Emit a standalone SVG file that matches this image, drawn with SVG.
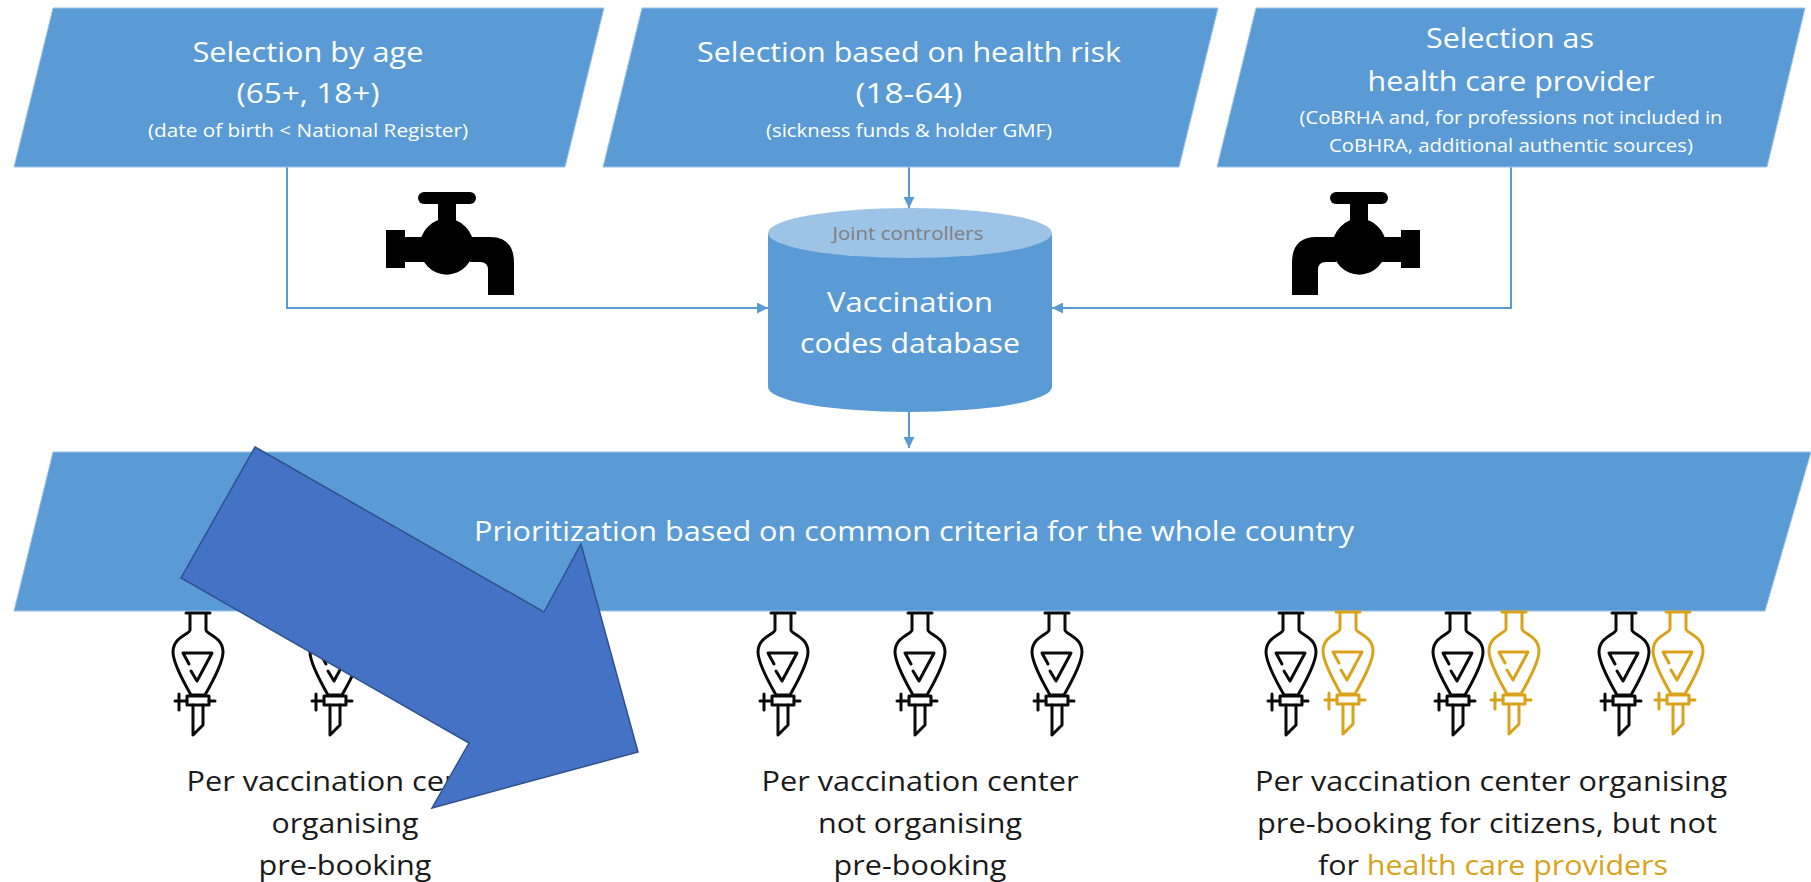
<svg xmlns="http://www.w3.org/2000/svg" width="1811" height="882" viewBox="0 0 1811 882">
<style>
text{font-family:"Open Sans","Noto Sans","Liberation Sans",sans-serif;text-anchor:middle;lengthAdjust:spacingAndGlyphs}
.shape{fill:#5B9BD5;stroke:#9DC3E6;stroke-width:1}
.w1{fill:#fff;font-size:27px}
.w2{fill:#fff;font-size:17.5px}
.k{fill:#1a1a1a;font-size:27px}
.conn{fill:none;stroke:#5B9BD5;stroke-width:2}
.tap{fill:#000}
.fl{fill:none;stroke-width:3;stroke-linecap:round;stroke-linejoin:round}
.black{stroke:#0a0a0a}
.gold{stroke:#D9A21B}
</style>
<defs>
<marker id="arr" markerUnits="userSpaceOnUse" markerWidth="11" markerHeight="11" refX="11" refY="5.5" orient="auto"><path d="M0 0L11 5.5L0 11Z" fill="#5B9BD5"/></marker>
<g id="flask">
<path d="M-12 0H12M-8 0V17C-8 21 -25 24 -25 39C-25 50 -15 68 -7 82H7C15 68 25 50 25 39C25 24 8 21 8 17V0"/>
<path d="M-9 51L-15 40H14L-1 68L-7 58"/>
<rect x="-11" y="83" width="22" height="9"/>
<path d="M-23 88H-11M11 88H17M-19 81V97"/>
<path d="M-5 92V122L5 112V92"/>
</g>
<g id="tap">
<rect x="418" y="192" width="58" height="12" rx="6"/>
<rect x="438" y="200" width="18" height="26"/>
<ellipse cx="446.700" cy="246.700" rx="27" ry="28"/>
<rect x="386" y="230" width="19" height="38"/>
<rect x="404" y="237" width="20" height="25"/>
<path d="M470 237H490Q514 237 514 263V295H488V270Q488 262 480 262H470Z"/>
</g>
</defs>
<rect width="1811" height="882" fill="#fff"/>
<g id="connectors">
<path class="conn" marker-end="url(#arr)" d="M287 167V308H768"/>
<path class="conn" marker-end="url(#arr)" d="M909 167V208"/>
<path class="conn" marker-end="url(#arr)" d="M1511 167V308H1052"/>
<path class="conn" marker-end="url(#arr)" d="M909 412V448"/>
</g>
<g id="node-age">
<polygon class="shape" points="53,8 604,8 565,167 14,167"/>
<text class="w1" x="308" y="62" textLength="231" lengthAdjust="spacingAndGlyphs">Selection by age</text>
<text class="w1" x="308" y="103" textLength="143" lengthAdjust="spacingAndGlyphs">(65+, 18+)</text>
<text class="w2" x="308" y="137" textLength="320" lengthAdjust="spacingAndGlyphs">(date of birth &lt; National Register)</text>
</g>
<g id="node-risk">
<polygon class="shape" points="642,8 1218,8 1179,167 603,167"/>
<text class="w1" x="909" y="62" textLength="424" lengthAdjust="spacingAndGlyphs">Selection based on health risk</text>
<text class="w1" x="909" y="103" textLength="107" lengthAdjust="spacingAndGlyphs">(18-64)</text>
<text class="w2" x="909" y="137" textLength="286" lengthAdjust="spacingAndGlyphs">(sickness funds &amp; holder GMF)</text>
</g>
<g id="node-provider">
<polygon class="shape" points="1256,8 1805,8 1767,167 1217,167"/>
<text class="w1" x="1510" y="48" textLength="168" lengthAdjust="spacingAndGlyphs">Selection as</text>
<text class="w1" x="1511" y="91" textLength="287" lengthAdjust="spacingAndGlyphs">health care provider</text>
<text class="w2" x="1511" y="124" textLength="423" lengthAdjust="spacingAndGlyphs">(CoBRHA and, for professions not included in</text>
<text class="w2" x="1511" y="152" textLength="364" lengthAdjust="spacingAndGlyphs">CoBHRA, additional authentic sources)</text>
</g>
<g id="node-tap-left" class="tap"><use href="#tap"/></g>
<g id="node-tap-right" class="tap"><use href="#tap" transform="translate(1806 0) scale(-1 1)"/></g>
<g id="node-database">
<path d="M768 233V387A142 25 0 0 0 1052 387V233Z" fill="#5B9BD5"/>
<ellipse cx="910" cy="233" rx="142" ry="25" fill="#9DC3E6"/>
<text x="908" y="240" font-size="18" fill="#7f7f7f" textLength="151" lengthAdjust="spacingAndGlyphs">Joint controllers</text>
<text class="w1" x="910" y="312" textLength="166" lengthAdjust="spacingAndGlyphs">Vaccination</text>
<text class="w1" x="910" y="353" textLength="220" lengthAdjust="spacingAndGlyphs">codes database</text>
</g>
<g id="node-prioritization">
<polygon class="shape" points="53,452 1811,452 1811,452 1765,611 14,611"/>
<text class="w1" x="914" y="541" textLength="880" lengthAdjust="spacingAndGlyphs">Prioritization based on common criteria for the whole country</text>
</g>
<g id="node-flasks-1" class="fl black">
<use href="#flask" x="198" y="613"/>
<use href="#flask" x="335" y="613"/>
</g>
<g id="node-flasks-2" class="fl black">
<use href="#flask" x="783" y="613"/>
<use href="#flask" x="920" y="613"/>
<use href="#flask" x="1057" y="613"/>
</g>
<g id="node-flasks-3-black" class="fl black">
<use href="#flask" x="1291" y="613"/>
<use href="#flask" x="1458" y="613"/>
<use href="#flask" x="1624" y="613"/>
</g>
<g id="node-flasks-3-gold" class="fl gold">
<use href="#flask" x="1348" y="612"/>
<use href="#flask" x="1514" y="612"/>
<use href="#flask" x="1678" y="612"/>
</g>
<g id="node-label-1">
<text class="k" x="345" y="791" textLength="317" lengthAdjust="spacingAndGlyphs">Per vaccination center</text>
<text class="k" x="345" y="833" textLength="147" lengthAdjust="spacingAndGlyphs">organising</text>
<text class="k" x="345" y="875" textLength="173" lengthAdjust="spacingAndGlyphs">pre-booking</text>
</g>
<g id="node-label-2">
<text class="k" x="920" y="791" textLength="317" lengthAdjust="spacingAndGlyphs">Per vaccination center</text>
<text class="k" x="920" y="833" textLength="204" lengthAdjust="spacingAndGlyphs">not organising</text>
<text class="k" x="920" y="875" textLength="173" lengthAdjust="spacingAndGlyphs">pre-booking</text>
</g>
<g id="node-label-3">
<text class="k" x="1491" y="791" textLength="472" lengthAdjust="spacingAndGlyphs">Per vaccination center organising</text>
<text class="k" x="1487" y="833" textLength="460" lengthAdjust="spacingAndGlyphs">pre-booking for citizens, but not</text>
<text class="k" x="1493" y="875" textLength="350" lengthAdjust="spacingAndGlyphs">for <tspan fill="#D9A21B">health care providers</tspan></text>
</g>
<g id="node-big-arrow">
<polygon points="255,447 544,612 581,544 638,752 432,808 469,743 181,578" fill="#4472C4" stroke="#2F528F" stroke-width="1.500"/>
</g>
</svg>
